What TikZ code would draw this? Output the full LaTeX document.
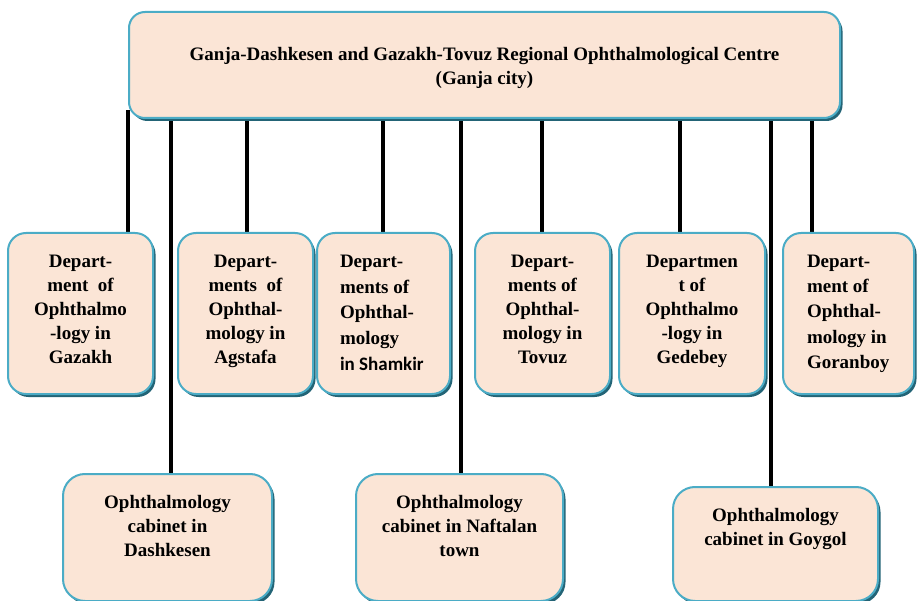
\documentclass[tikz,border=0pt]{standalone}
\usepackage{fontspec}
\setmainfont{Liberation Serif}
\newfontfamily\carlito{Carlito}
\usetikzlibrary{shadows,backgrounds,calc}

\definecolor{boxfill}{HTML}{FBE5D6}
\definecolor{boxline}{HTML}{4BACC6}
\definecolor{boxshadow}{RGB}{35,100,118}

\begin{document}
\begin{tikzpicture}[x=1pt,y=-1pt,
    unitbox/.style={rectangle, rounded corners=18pt, draw=boxline, line width=2pt,
      fill=boxfill, drop shadow={shadow xshift=2.5pt, shadow yshift=-3pt, fill=boxshadow, opacity=1},
      align=flush center, anchor=north, inner xsep=4pt, inner ysep=6pt,
      font=\bfseries\fontsize{19}{24}\selectfont},
    deptbox/.style={unitbox, text height=28.5pt, text depth=120.5pt},
    cabbox/.style={unitbox, rounded corners=22pt, text height=28pt},
    link/.style={line width=4.5pt, black}]
  \useasboundingbox (0,0) rectangle (918,601);
  \clip (0,0) rectangle (918,601);
  % regional centre
  \node[unitbox, rounded corners=16pt, text width=703pt, text height=42.5pt, text depth=51.5pt]
    (centre) at (484.5,11) {Ganja-Dashkesen and Gazakh-Tovuz Regional Ophthalmological Centre\\(Ganja city)};
  % departments
  \node[deptbox, text width=137pt] (gazakh) at (80.5,232) {Depart-\\ment~~of\\Ophthalmo\\-logy in\\Gazakh};
  \node[deptbox, text width=127pt] (agstafa) at (245.5,232) {Depart-\\ments~~of\\Ophthal-\\mology in\\Agstafa};
  \node[deptbox, text width=87pt, inner xsep=23pt, align=flush left, font=\bfseries\fontsize{19}{25.75}\selectfont]
    (shamkir) at (383.5,232) {Depart-\\ments of\\Ophthal-\\mology\\{\carlito in Shamkir}};
  \node[deptbox, text width=127pt] (tovuz) at (542.5,232) {Depart-\\ments of\\Ophthal-\\mology in\\Tovuz};
  \node[deptbox, text width=138pt] (gedebey) at (692,232) {Departmen\\t of\\Ophthalmo\\-logy in\\Gedebey};
  \node[deptbox, text width=83pt, inner xsep=24pt, align=flush left, font=\bfseries\fontsize{19}{25.25}\selectfont]
    (goranboy) at (848.5,232) {Depart-\\ment of\\Ophthal-\\mology in\\Goranboy};
  % cabinets
  \node[cabbox, text width=201pt, text depth=87pt] (dashkesen) at (167.5,473) {Ophthalmology\\cabinet in\\Dashkesen};
  \node[cabbox, text width=199pt, text depth=87pt] (naftalan) at (459.5,473) {Ophthalmology\\cabinet in Naftalan\\town};
  \node[cabbox, text width=197pt, text depth=74pt] (goygol) at (775.5,486) {Ophthalmology\\cabinet in Goygol};
  % links
  \begin{scope}[on background layer]
    \foreach \x/\n in {128/gazakh, 171/dashkesen, 247/agstafa, 383/shamkir, 461/naftalan,
                       542/tovuz, 680/gedebey, 771/goygol, 812/goranboy}
      \draw[link] ($(\x,0 |- centre.south)+(0,-9)$) -- (\x,0 |- \n.center);
  \end{scope}
\end{tikzpicture}
\end{document}
